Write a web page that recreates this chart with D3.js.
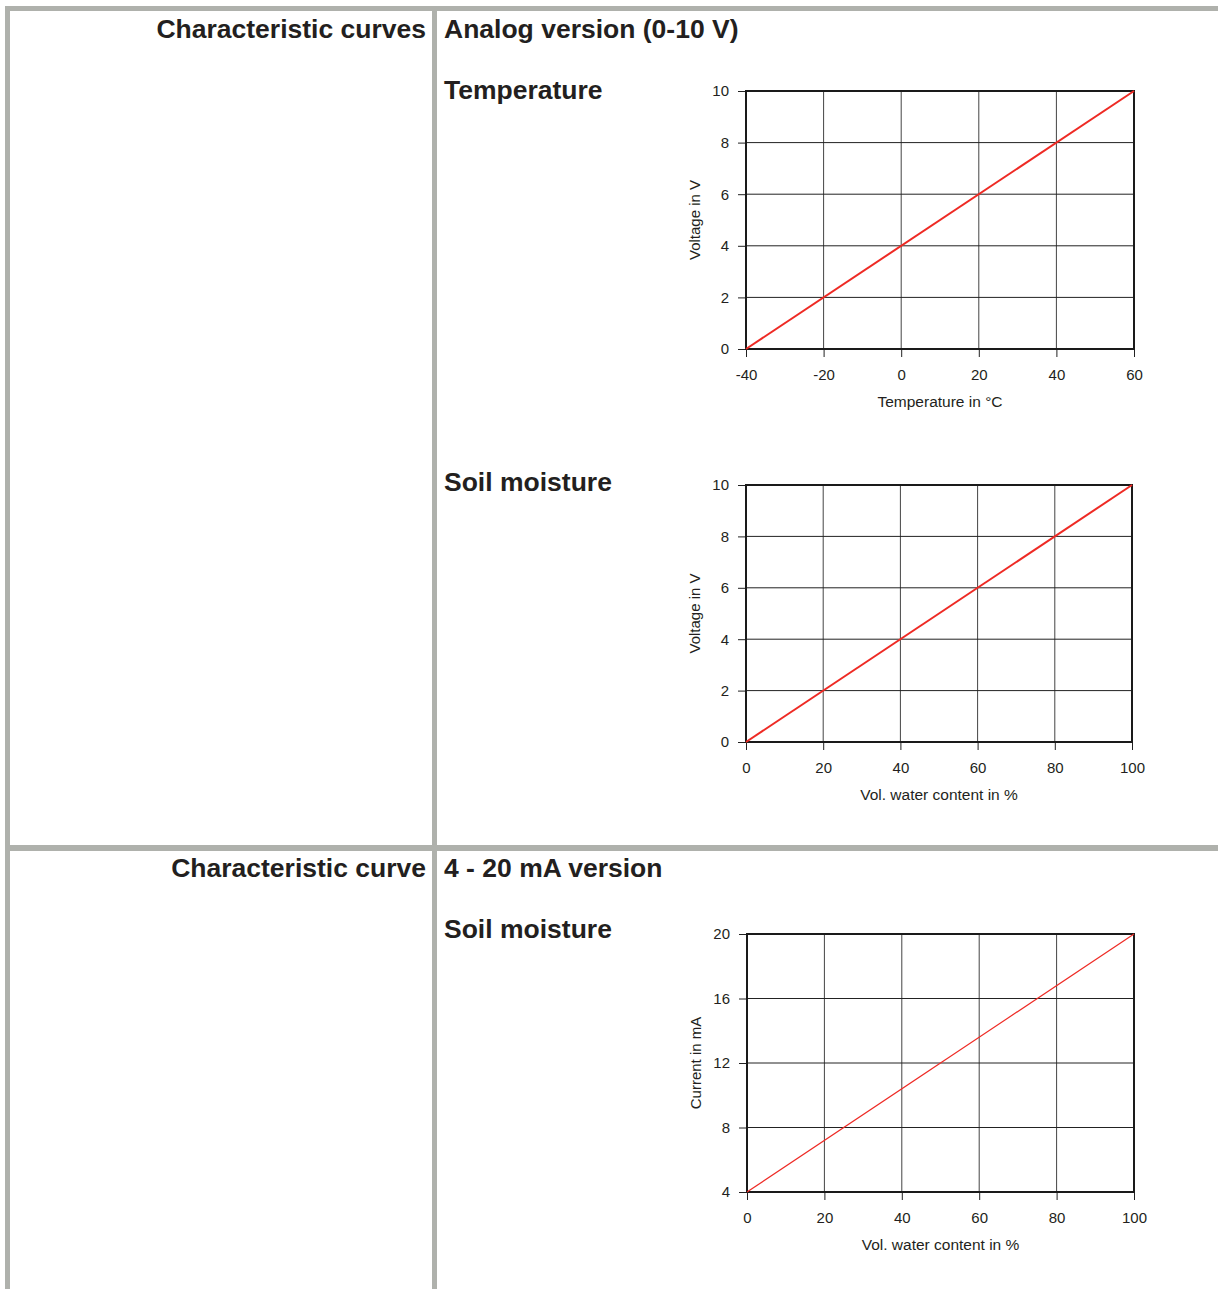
<!DOCTYPE html>
<html>
<head>
<meta charset="utf-8">
<script src="https://cdn.jsdelivr.net/npm/d3@7"></script>
<style>
  html, body { margin: 0; padding: 0; background: #fff; }
  svg { display: block; }
  text { font-family: "Liberation Sans", Arial, sans-serif; fill: #231f20; }
</style>
</head>
<body>
<svg id="page" width="1218" height="1289"></svg>
<script>
// ---- Data ----
const tempX = [-40, 60];          // Temperature in °C
const tempY = [0, 10];            // Voltage in V
const tempXTicks = [-40, -20, 0, 20, 40, 60];
const tempYTicks = [0, 2, 4, 6, 8, 10];

const soilVX = [0, 100];          // Vol. water content in %
const soilVY = [0, 10];           // Voltage in V
const soilVXTicks = [0, 20, 40, 60, 80, 100];
const soilVYTicks = [0, 2, 4, 6, 8, 10];

const soilAX = [0, 100];          // Vol. water content in %
const soilAY = [4, 20];           // Current in mA
const soilAXTicks = [0, 20, 40, 60, 80, 100];
const soilAYTicks = [4, 8, 12, 16, 20];

const svg = d3.select("#page");
const borderColor = "#afb1ac";

// ---- Table borders ----
svg.append("rect").attr("x", 5).attr("y", 6).attr("width", 1213).attr("height", 5).attr("fill", borderColor);
svg.append("rect").attr("x", 5).attr("y", 845).attr("width", 1213).attr("height", 6).attr("fill", borderColor);
svg.append("rect").attr("x", 5).attr("y", 6).attr("width", 5).attr("height", 1283).attr("fill", borderColor);
svg.append("rect").attr("x", 432).attr("y", 6).attr("width", 5).attr("height", 1283).attr("fill", borderColor);

// ---- Headings ----
function heading(txt, x, y, anchor) {
  svg.append("text").attr("x", x).attr("y", y).attr("text-anchor", anchor)
    .attr("font-size", 26.5).attr("font-weight", "bold").text(txt);
}
heading("Characteristic curves", 426, 38, "end");
heading("Analog version (0-10 V)", 444, 38, "start");
heading("Temperature", 444, 99, "start");
heading("Soil moisture", 444, 491, "start");
heading("Characteristic curve", 426, 877, "end");
heading("4 - 20 mA version", 444, 877, "start");
heading("Soil moisture", 444, 938, "start");

const FS = 15;

// ---- Chart builder ----
function chart(cfg) {
  const g = svg.append("g");
  const x = d3.scaleLinear().domain(cfg.xd).range([cfg.x0, cfg.x1]);
  const y = d3.scaleLinear().domain(cfg.yd).range([cfg.y1, cfg.y0]);

  // grid
  g.append("g").selectAll("line").data(cfg.xt).join("line")
    .attr("x1", d => x(d)).attr("x2", d => x(d))
    .attr("y1", cfg.y0).attr("y2", cfg.y1)
    .attr("stroke", "#444").attr("stroke-width", 1);
  g.append("g").selectAll("line").data(cfg.yt).join("line")
    .attr("y1", d => y(d)).attr("y2", d => y(d))
    .attr("x1", cfg.x0).attr("x2", cfg.x1)
    .attr("stroke", "#222").attr("stroke-width", 1);

  // axes
  const fmt = d => String(d);
  const ax = g.append("g").attr("transform", `translate(0,${cfg.y1})`)
    .call(d3.axisBottom(x).tickValues(cfg.xt).tickSize(8).tickPadding(12).tickFormat(fmt));
  const ay = g.append("g").attr("transform", `translate(${cfg.x0},0)`)
    .call(d3.axisLeft(y).tickValues(cfg.yt).tickSize(8).tickPadding(9).tickFormat(fmt));
  [ax, ay].forEach(a => {
    a.select(".domain").remove();
    a.selectAll(".tick line").attr("stroke", "#222");
    a.selectAll(".tick text").attr("font-size", FS).attr("fill", "#231f20")
      .attr("font-family", '"Liberation Sans", Arial, sans-serif');
  });

  // frame
  g.append("rect").attr("x", cfg.x0).attr("y", cfg.y0)
    .attr("width", cfg.x1 - cfg.x0).attr("height", cfg.y1 - cfg.y0)
    .attr("fill", "none").attr("stroke", "#1a1a1a").attr("stroke-width", 2);

  // line
  const pts = cfg.xd.map((xv, i) => [xv, cfg.yd[i]]);
  g.append("path").datum(pts)
    .attr("d", d3.line().x(d => x(d[0])).y(d => y(d[1])))
    .attr("fill", "none").attr("stroke", "#ee2a24").attr("stroke-width", cfg.lw);

  // titles
  g.append("text").attr("x", (cfg.x0 + cfg.x1) / 2).attr("y", cfg.y1 + 58)
    .attr("text-anchor", "middle").attr("font-size", 15.5).text(cfg.xlabel);
  g.append("text")
    .attr("transform", `translate(${cfg.x0 - 46},${(cfg.y0 + cfg.y1) / 2}) rotate(-90)`)
    .attr("text-anchor", "middle").attr("font-size", 15).text(cfg.ylabel);
}

chart({ x0: 746, x1: 1134, y0: 91, y1: 349, xd: tempX, yd: tempY, xt: tempXTicks, yt: tempYTicks,
        xlabel: "Temperature in °C", ylabel: "Voltage in V", lw: 2 });
chart({ x0: 746, x1: 1132, y0: 485, y1: 742, xd: soilVX, yd: soilVY, xt: soilVXTicks, yt: soilVYTicks,
        xlabel: "Vol. water content in %", ylabel: "Voltage in V", lw: 2 });
chart({ x0: 747, x1: 1134, y0: 934, y1: 1192, xd: soilAX, yd: soilAY, xt: soilAXTicks, yt: soilAYTicks,
        xlabel: "Vol. water content in %", ylabel: "Current in mA", lw: 1.2 });
</script>
</body>
</html>
